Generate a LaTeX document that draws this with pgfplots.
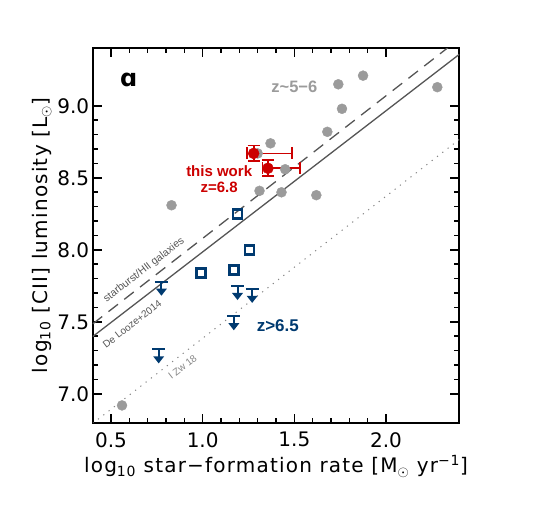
\documentclass[border=0pt]{standalone}
\usepackage{fontspec}
\setmainfont{Liberation Sans}
\newfontfamily\symfont{DejaVu Sans}
\newfontfamily\lblfont[LetterSpace=6]{DejaVu Sans}
\usepackage{pgfplots}
\pgfplotsset{compat=1.18}

\definecolor{ptgray}{RGB}{155,155,155}
\definecolor{ptred}{RGB}{204,0,0}
\definecolor{ptblue}{RGB}{0,58,112}
\definecolor{lngray}{RGB}{85,85,85}
\definecolor{dotgray}{RGB}{135,135,135}

% upper limit: bar with a down arrow
\pgfdeclareplotmark{ulim}{%
  \pgfpathmoveto{\pgfqpoint{-6.5pt}{0pt}}\pgfpathlineto{\pgfqpoint{6.5pt}{0pt}}%
  \pgfpathmoveto{\pgfqpoint{0pt}{0pt}}\pgfpathlineto{\pgfqpoint{0pt}{-9pt}}%
  \pgfusepathqstroke
  \pgfpathmoveto{\pgfqpoint{-3.5pt}{-8pt}}\pgfpathlineto{\pgfqpoint{0pt}{-12.5pt}}%
  \pgfpathlineto{\pgfqpoint{3.5pt}{-8pt}}\pgfpathclose
  \pgfusepathqfillstroke
}

\begin{document}
\begin{tikzpicture}
\begin{axis}[
  scale only axis,
  width=366.6pt, height=374.4pt,
  xmin=0.4, xmax=2.4, ymin=6.8, ymax=9.4,
  xtick={0.5,1.0,1.5,2.0}, ytick={7.0,7.5,8.0,8.5,9.0},
  minor x tick num=4, minor y tick num=4,
  tick align=inside,
  major tick length=9pt, minor tick length=5pt,
  axis line style={line width=2.2pt},
  every tick/.style={black, line width=1.6pt},
  /pgf/number format/assume math mode=true,
  xticklabel style={/pgf/number format/.cd, fixed, fixed zerofill, precision=1, /tikz/.cd, yshift=-6pt},
  yticklabel style={/pgf/number format/.cd, fixed, fixed zerofill, precision=1},
  tick label style={font=\symfont\fontsize{20}{22}\selectfont},
  label style={font=\lblfont\fontsize{20}{22}\selectfont},
  xlabel={log\textsubscript{10} star−formation rate [M\textsubscript{$\odot$} yr\textsuperscript{−1}]},
  ylabel={log\textsubscript{10} [CII] luminosity [L\textsubscript{$\odot$}]},
  xlabel style={yshift=-1pt},
  ylabel style={yshift=-1pt},
]
% relations
\addplot[lngray, line width=1.3pt, forget plot] coordinates {(0.4,7.398) (2.4,9.358)};
\addplot[lngray, line width=1.3pt, dash pattern=on 12pt off 8pt, forget plot] coordinates {(0.4,7.486) (2.4,9.466)};
\addplot[dotgray, line width=1pt, dash pattern=on 1.2pt off 5.5pt, forget plot] coordinates {(0.4,6.795) (2.4,8.767)};

% z~5-6
\addplot[only marks, mark=*, mark size=5pt, ptgray, mark options={draw=ptgray, fill=ptgray}] coordinates {
  (2.28,9.13) (1.875,9.21) (1.74,9.15) (1.76,8.98) (1.68,8.82) (1.37,8.74) (1.30,8.67)
  (1.45,8.56) (1.31,8.41) (1.43,8.40) (1.62,8.38) (0.83,8.31) (0.56,6.92)
};

% z>6.5 detections
\addplot[only marks, mark=square, mark size=4.4pt, ptblue, mark options={line width=2.6pt}] coordinates {
  (1.19,8.25) (1.255,8.0) (0.99,7.84) (1.17,7.86)
};
% z>6.5 upper limits
\addplot[only marks, mark=ulim, ptblue, mark options={line width=2pt, fill=ptblue}] coordinates {
  (0.775,7.78) (1.19,7.75) (1.27,7.73) (1.17,7.54) (0.76,7.31)
};

% this work
\addplot[only marks, mark=*, mark size=5.5pt, ptred, mark options={fill=ptred},
  error bars/.cd, x dir=both, x explicit, y dir=both, y explicit,
  error bar style={line width=1.8pt, ptred},
  error mark options={line width=1.8pt, ptred, mark size=6pt, rotate=90}]
  coordinates {
  (1.278,8.67) += (0.21,0.055) -= (0.035,0.055)
  (1.356,8.567) += (0.175,0.055) -= (0.03,0.055)
};

% labels
\node[font=\symfont\bfseries\fontsize{24}{24}\selectfont] at (axis cs:0.596,9.18) {ɑ};
\node[ptgray, font=\bfseries\fontsize{16.5}{17}\selectfont] at (axis cs:1.50,9.13) {z\textasciitilde 5−6};
\node[ptred, font=\bfseries\fontsize{15}{16}\selectfont, align=center] at (axis cs:1.09,8.49) {this work\\z=6.8};
\node[ptblue, font=\bfseries\fontsize{17}{17}\selectfont] at (axis cs:1.41,7.475) {z>6.5};
\node[lngray, rotate=37.6, font=\fontsize{10.5}{11}\selectfont] at (axis cs:0.68,7.86) {starburst/HII galaxies};
\node[lngray, rotate=37.6, font=\fontsize{10}{11}\selectfont] at (axis cs:0.615,7.485) {De Looze+2014};
\node[dotgray, rotate=37.6, font=\fontsize{10}{11}\selectfont] at (axis cs:0.89,7.185) {I Zw 18};
\end{axis}
\path ([xshift=-92.7pt,yshift=-90.3pt]current axis.south west) rectangle ([xshift=78.7pt,yshift=48.3pt]current axis.north east);
\end{tikzpicture}
\end{document}
